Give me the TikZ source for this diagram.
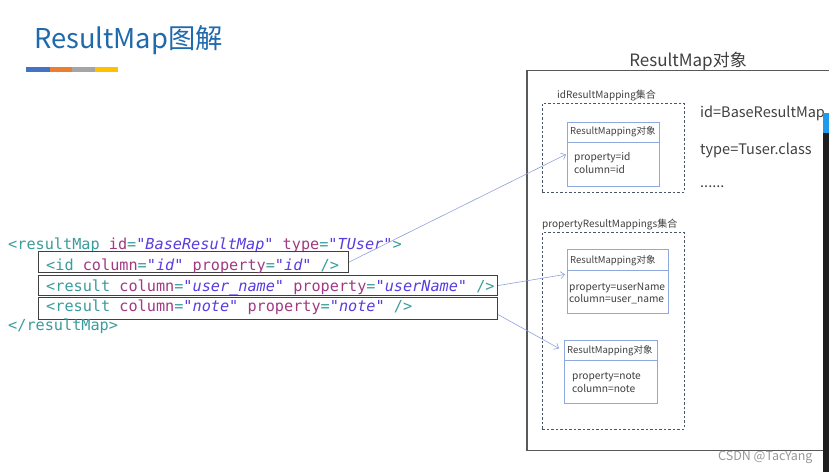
\documentclass[tikz,border=0pt]{standalone}
\usepackage{fontspec}
\setmainfont{Noto Sans CJK SC}
\newfontfamily\codefont{DejaVu Sans Mono}
\usetikzlibrary{arrows.meta}
\definecolor{titleblue}{HTML}{1F69AD}
\definecolor{barblue}{HTML}{4472C4}
\definecolor{barorange}{HTML}{ED7D31}
\definecolor{bargray}{HTML}{A5A5A5}
\definecolor{baryellow}{HTML}{FFC000}
\definecolor{codetag}{HTML}{3A9C9C}
\definecolor{codeatt}{HTML}{A03A82}
\definecolor{codeval}{HTML}{5A3CE0}
\definecolor{txt}{HTML}{404040}
\definecolor{boxblue}{HTML}{8EA9DB}
\definecolor{arrblue}{HTML}{8FA3DE}
\definecolor{dashgray}{HTML}{4A5668}
\definecolor{stripblue}{HTML}{1E9BEA}
\newcommand{\xtag}[1]{\textcolor{codetag}{#1}}
\newcommand{\xatt}[1]{\textcolor{codeatt}{#1}}
\newcommand{\xval}[1]{\textcolor{codeval}{\itshape #1}}
\tikzset{
  codeline/.style={anchor=base west, inner sep=0pt, font=\codefont\fontsize{15.2}{18}\selectfont},
  codebox/.style={draw=black!75, line width=1.1pt, anchor=north west, inner sep=0pt},
  rmbox/.style={draw=boxblue, line width=0.8pt, anchor=north west, inner sep=0pt, fill=white},
  dashbox/.style={draw=dashgray, dashed, dash pattern=on 2.5pt off 2pt, line width=0.8pt, anchor=north west, inner sep=0pt},
  headtxt/.style={anchor=base west, inner sep=0pt, text=txt, font=\fontsize{9.5}{11}\selectfont},
  smalltxt/.style={anchor=base west, inner sep=0pt, text=txt, font=\fontsize{10.2}{12}\selectfont},
  lbltxt/.style={anchor=base west, inner sep=0pt, text=txt, font=\fontsize{10}{12}\selectfont},
  bigtxt/.style={anchor=base west, inner sep=0pt, text=txt, font=\fontsize{14.5}{17}\selectfont},
  arr/.style={draw=arrblue, line width=0.6pt, -{Straight Barb[length=4pt,width=7pt]}},
}
\begin{document}
\begin{tikzpicture}[x=1pt,y=-1pt]
\useasboundingbox (0,0) rectangle (829,472);
\fill[white] (0,0) rectangle (829,472);
% title
\node[anchor=base west, inner sep=0pt, text=titleblue, font=\fontsize{27.3}{32}\selectfont] (title) at (34,48) {ResultMap图解};
\fill[barblue] (26,67) rectangle (50,72);
\fill[barorange] (50,67) rectangle (72,72);
\fill[bargray] (72,67) rectangle (95,72);
\fill[baryellow] (95,67) rectangle (118,72);
% outer ResultMap object
\draw[black!65, line width=1.2pt] (829,70.5) -- (527,70.5) -- (527,450.5) -- (823,450.5);
\node[anchor=base, inner sep=0pt, text=txt, font=\fontsize{17}{20}\selectfont] (objtitle) at (688,66) {ResultMap对象};
\node[bigtxt] (idtxt) at (700,117) {id=BaseResultMap};
\node[bigtxt] (typetxt) at (700,154) {type=Tuser.class};
\node[bigtxt] (dots) at (700,187) {......};
% idResultMapping collection
\node[lbltxt] (idlbl) at (557,98) {idResultMapping集合};
\node[dashbox, minimum width=142pt, minimum height=89pt] (idset) at (542,103) {};
\node[rmbox, minimum width=92pt, minimum height=64pt] (b1) at (567,122) {};
\draw[boxblue, line width=0.8pt] (b1.west |- 0,142) -- (b1.east |- 0,142);
\node[headtxt] (b1h) at (570,134) {ResultMapping对象};
\node[smalltxt] (b1p) at (574,160) {property=id};
\node[smalltxt] (b1c) at (574,173) {column=id};
% propertyResultMappings collection
\node[lbltxt] (proplbl) at (542,227) {propertyResultMappings集合};
\node[dashbox, minimum width=142pt, minimum height=197pt] (propset) at (542,232) {};
\node[rmbox, minimum width=101pt, minimum height=64pt] (b2) at (567,249) {};
\draw[boxblue, line width=0.8pt] (b2.west |- 0,270) -- (b2.east |- 0,270);
\node[headtxt] (b2h) at (570,263) {ResultMapping对象};
\node[smalltxt] (b2p) at (569,290) {property=userName};
\node[smalltxt] (b2c) at (569,302) {column=user\_name};
\node[rmbox, minimum width=93pt, minimum height=63pt] (b3) at (564,340) {};
\draw[boxblue, line width=0.8pt] (b3.west |- 0,360) -- (b3.east |- 0,360);
\node[headtxt] (b3h) at (567,353) {ResultMapping对象};
\node[smalltxt] (b3p) at (572,379) {property=note};
\node[smalltxt] (b3c) at (572,392) {column=note};
% code
\node[codeline] (l1) at (8,249) {\xtag{<resultMap} \xatt{id}\xtag{=}\xval{"BaseResultMap"} \xatt{type}\xtag{=}\xval{"TUser"}\xtag{>}};
\node[codebox, minimum width=310pt, minimum height=21pt] (c2) at (38,251) {};
\node[codeline] (l2) at (46,270) {\xtag{<id} \xatt{column}\xtag{=}\xval{"id"} \xatt{property}\xtag{=}\xval{"id"} \xtag{/>}};
\node[codebox, minimum width=459pt, minimum height=20pt] (c3) at (38,275) {};
\node[codeline] (l3) at (46,291) {\xtag{<result} \xatt{column}\xtag{=}\xval{"user\_name"} \xatt{property}\xtag{=}\xval{"userName"} \xtag{/>}};
\node[codebox, minimum width=459pt, minimum height=22pt] (c4) at (38,297) {};
\node[codeline] (l4) at (46,311) {\xtag{<result} \xatt{column}\xtag{=}\xval{"note"} \xatt{property}\xtag{=}\xval{"note"} \xtag{/>}};
\node[codeline] (l5) at (8,330) {\xtag{</resultMap>}};
% connectors
\draw[arr] (c2.east) -- ([xshift=-1pt]b1.west);
\draw[arr] (c3.east) -- ([xshift=-2pt,yshift=7pt]b2.west);
\draw[arr] ([yshift=-6pt]c4.east) -- ([xshift=-5pt,yshift=23.5pt]b3.west);
% watermark
\node[anchor=base west, inner sep=0pt, text=black!40, font=\fontsize{12.5}{15}\selectfont] (wm) at (718,460) {CSDN @TacYang};
% right edge window strip
\fill[black!88] (823,113) rectangle (829,472);
\fill[stripblue] (823,113) rectangle (829,133);
\end{tikzpicture}
\end{document}
